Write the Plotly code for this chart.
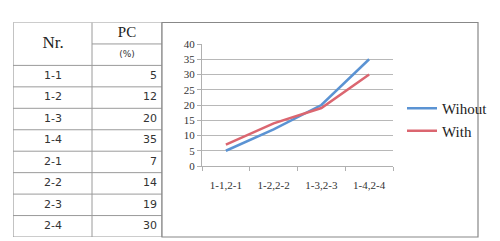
import plotly.graph_objects as go

# ---- data ----
row_labels = ["1-1", "1-2", "1-3", "1-4", "2-1", "2-2", "2-3", "2-4"]
pc_values = [5, 12, 20, 35, 7, 14, 19, 30]
header_labels = ["Nr.", "PC", "(%)"]
categories = ["1-1,2-1", "1-2,2-2", "1-3,2-3", "1-4,2-4"]
without_vals = [5, 12, 20, 35]
with_vals = [7, 14, 19, 30]
y_ticks = [0, 5, 10, 15, 20, 25, 30, 35, 40]

W, H = 500, 241
def px(x): return x / W
def py(y): return 1 - y / H

SERIF = "Liberation Serif, DejaVu Serif, serif"
SANS = "DejaVu Sans, Liberation Sans, sans-serif"
LINE = "#9a9a9a"
TXT = "#333333"

TBL_X = [px(13), px(162)]
TBL_Y = [py(237), py(22.5)]
n = len(row_labels)
COL_SPLIT = 79    # table units (px from table left)
TBL_W = 149
N_ROWS = n + 2    # two header rows

fig = go.Figure()

# table texts on a helper axis covering the table (rows as units)
row_pos = [2.5 + i for i in range(n)]
fig.add_trace(go.Scatter(x=[40] * n, y=row_pos, text=row_labels, mode="text",
                         textposition="middle center", showlegend=False, hoverinfo="skip",
                         textfont=dict(family=SANS, size=11, color=TXT),
                         xaxis="x2", yaxis="y2", cliponaxis=False))
fig.add_trace(go.Scatter(x=[144] * n, y=row_pos, text=[str(v) for v in pc_values], mode="text",
                         textposition="middle left", showlegend=False, hoverinfo="skip",
                         textfont=dict(family=SANS, size=11, color=TXT),
                         xaxis="x2", yaxis="y2", cliponaxis=False))
fig.add_trace(go.Scatter(x=[40], y=[1.0], text=[header_labels[0]], mode="text",
                         textposition="middle center", showlegend=False, hoverinfo="skip",
                         textfont=dict(family=SERIF, size=17, color="#222"),
                         xaxis="x2", yaxis="y2", cliponaxis=False))
fig.add_trace(go.Scatter(x=[114], y=[0.5], text=[header_labels[1]], mode="text",
                         textposition="middle center", showlegend=False, hoverinfo="skip",
                         textfont=dict(family=SERIF, size=15, color="#222"),
                         xaxis="x2", yaxis="y2", cliponaxis=False))
fig.add_trace(go.Scatter(x=[114], y=[1.5], text=[header_labels[2]], mode="text",
                         textposition="middle center", showlegend=False, hoverinfo="skip",
                         textfont=dict(family=SANS, size=9, color="#333"),
                         xaxis="x2", yaxis="y2", cliponaxis=False))

# chart lines
fig.add_trace(go.Scatter(x=categories, y=without_vals, mode="lines", name="Wihout",
                         line=dict(color="#5b93d3", width=2.5)))
fig.add_trace(go.Scatter(x=categories, y=with_vals, mode="lines", name="With",
                         line=dict(color="#db6670", width=2.5)))

# table grid lines (in table units)
shapes = []
for r in range(N_ROWS + 1):
    x0 = COL_SPLIT if r == 1 else 0   # PC / (%) divider only in the right column
    shapes.append(dict(type="line", xref="x2", yref="y2", x0=x0, x1=TBL_W, y0=r, y1=r,
                       line=dict(color=LINE, width=1.2 if r in (0, N_ROWS) else 1)))
for xv in (0, COL_SPLIT, TBL_W):
    shapes.append(dict(type="line", xref="x2", yref="y2", x0=xv, x1=xv, y0=0, y1=N_ROWS,
                       line=dict(color=LINE, width=1.2 if xv != COL_SPLIT else 1)))
# chart frame
shapes.append(dict(type="rect", xref="paper", yref="paper", x0=px(162), x1=px(478),
                   y0=py(237), y1=py(22.5), line=dict(color="#888", width=1.2), layer="above"))

fig.update_layout(
    width=W, height=H, margin=dict(l=0, r=0, t=0, b=0, pad=0, autoexpand=False),
    paper_bgcolor="white", plot_bgcolor="white",
    showlegend=True,
    legend=dict(x=px(402), y=py(92), xanchor="left", yanchor="top",
                font=dict(family=SERIF, size=15, color="#222"),
                bgcolor="rgba(0,0,0,0)", tracegroupgap=0, itemwidth=30),
    xaxis=dict(domain=[px(202), px(393)], type="category", range=[-0.5, 3.5],
               showgrid=False, showline=True, linecolor="#b0b0b0",
               ticks="outside", tickson="boundaries", ticklen=4, tickcolor="#b0b0b0",
               ticklabelstandoff=9, automargin=False,
               tickfont=dict(family=SERIF, size=11, color="#333")),
    yaxis=dict(domain=[py(166), py(44)], range=[0, 40], tickvals=y_ticks,
               showgrid=True, gridcolor="#b8b8b8", gridwidth=1,
               showline=True, linecolor="#b0b0b0", zeroline=False,
               ticks="outside", ticklen=4, tickcolor="#b0b0b0", automargin=False,
               tickfont=dict(family=SERIF, size=11, color="#333")),
    xaxis2=dict(domain=TBL_X, range=[0, TBL_W], visible=False, fixedrange=True,
                anchor="y2", automargin=False),
    yaxis2=dict(domain=TBL_Y, range=[N_ROWS, 0], visible=False, fixedrange=True,
                anchor="x2", automargin=False),
    shapes=shapes,
)

fig.write_html("out.html")
